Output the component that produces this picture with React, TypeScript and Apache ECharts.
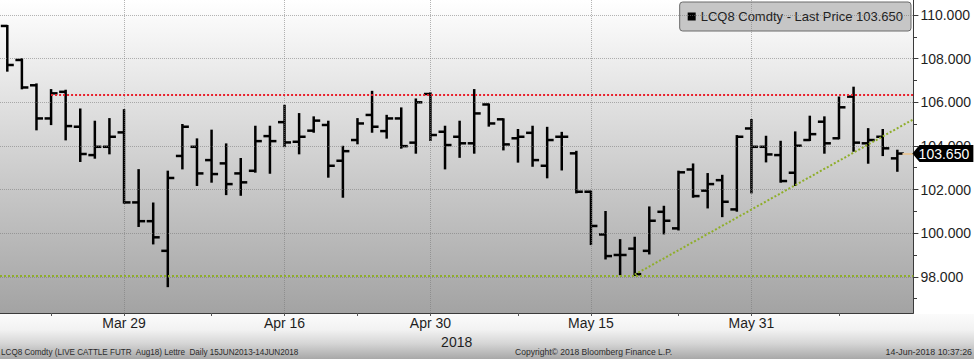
import React, { useEffect, useRef } from 'react';
import * as echarts from 'echarts';

// Trading days shown (Mar 19 – Jun 14, 2018)
const dates = [
  'Mar 19', 'Mar 20', 'Mar 21', 'Mar 22', 'Mar 23', 'Mar 26', 'Mar 27', 'Mar 28', 'Mar 29',
  'Apr 2', 'Apr 3', 'Apr 4', 'Apr 5', 'Apr 6', 'Apr 9', 'Apr 10', 'Apr 11', 'Apr 12', 'Apr 13',
  'Apr 16', 'Apr 17', 'Apr 18', 'Apr 19', 'Apr 20', 'Apr 23', 'Apr 24', 'Apr 25', 'Apr 26', 'Apr 27',
  'Apr 30', 'May 1', 'May 2', 'May 3', 'May 4', 'May 7', 'May 8', 'May 9', 'May 10', 'May 11',
  'May 14', 'May 15', 'May 16', 'May 17', 'May 18', 'May 21', 'May 22', 'May 23', 'May 24', 'May 25',
  'May 29', 'May 30', 'May 31', 'Jun 1', 'Jun 4', 'Jun 5', 'Jun 6', 'Jun 7', 'Jun 8',
  'Jun 11', 'Jun 12', 'Jun 13', 'Jun 14',
];

const opens = [
  109.5, 107.94, 106.78, 105.26, 106.48, 104.88, 103.58, 103.96, 104.62,
  101.41, 100.55, 99.19, 103.54, 103.96, 103.35, 103.2, 102.74, 102.86, 104.45,
  105.09, 104.19, 104.7, 104.96, 103.32, 104.27, 105.42, 104.68, 105.26, 104.15,
  106.38, 104.65, 104.42, 104.12, 105.9, 105.22, 104.35, 104.6, 103.09, 104.42,
  103.66, 101.9, 99.94, 99.0, 99.29, 99.19, 100.98, 100.22, 102.92, 101.95,
  102.43, 101.09, 104.8, 103.96, 103.58, 102.77, 104.27, 105.11, 104.35,
  106.26, 104.12, 104.42, 103.43,
];
const highs = [
  109.5, 107.97, 106.82, 106.56, 106.53, 105.67, 105.11, 105.23, 105.64,
  102.89, 101.36, 102.82, 104.96, 104.3, 104.7, 104.07, 103.4, 104.88, 104.88,
  105.84, 105.46, 105.31, 105.11, 103.96, 105.23, 106.48, 105.38, 105.72, 106.13,
  106.41, 104.88, 105.11, 106.56, 105.9, 105.22, 104.73, 104.88, 104.83, 104.6,
  103.73, 101.9, 100.97, 99.68, 99.79, 101.18, 101.21, 102.82, 103.15, 102.71,
  102.63, 104.45, 105.19, 104.42, 104.19, 104.62, 105.34, 105.31, 106.22,
  106.67, 104.77, 104.73, 103.78,
];
const lows = [
  107.45, 106.64, 104.76, 105.0, 104.3, 103.31, 103.46, 103.66, 101.4,
  100.33, 99.53, 97.57, 102.97, 102.21, 102.36, 101.79, 101.76, 102.82, 102.77,
  103.99, 103.66, 104.65, 102.59, 101.67, 104.12, 104.65, 104.38, 103.92, 103.69,
  104.27, 102.97, 103.5, 103.69, 104.93, 103.84, 103.28, 103.09, 102.56, 102.92,
  101.87, 99.5, 98.84, 98.12, 98.08, 99.07, 99.99, 100.17, 101.67, 101.18,
  100.78, 101.03, 101.87, 103.29, 102.36, 102.21, 104.27, 103.69, 104.35,
  103.78, 103.23, 103.58, 102.86,
];
const closes = [
  107.71, 106.68, 105.26, 106.41, 104.91, 103.63, 103.96, 104.42, 101.41,
  100.55, 99.81, 102.53, 104.88, 102.74, 102.71, 102.25, 102.33, 104.22, 104.22,
  104.16, 104.42, 105.16, 103.09, 103.76, 105.03, 104.88, 105.26, 103.99, 106.0,
  104.5, 104.04, 104.12, 105.49, 105.03, 104.07, 104.42, 103.35, 104.27, 104.42,
  101.9, 100.33, 98.95, 99.0, 98.12, 100.57, 100.57, 102.79, 101.7, 102.25,
  101.44, 104.42, 103.96, 103.61, 102.39, 104.01, 104.54, 104.12, 105.77,
  104.15, 104.27, 103.89, 103.65,
];

const labelDates = ['Mar 29', 'Apr 16', 'Apr 30', 'May 15', 'May 31'];
const tickDates = ['Mar 22', 'Mar 29', 'Apr 9', 'Apr 16', 'Apr 23', 'Apr 30', 'May 8', 'May 15', 'May 23', 'May 31', 'Jun 8'];
const yLabelValues = [98, 100, 102, 104, 106, 108, 110];
const yMinorTickValues = [97, 99, 101, 103, 105, 107, 109];
const yearLabel = '2018';

// annotation lines
const resistanceLevel = 106.36;
const resistanceStart = 'Mar 22';
const supportLevel = 98.06;
const trendLine = [
  ['May 18', 98.1],
  ['end', 105.22],
];
const lastPrice = 103.65;
const seriesName = 'LCQ8 Comdty - Last Price 103.650';

const footerLeft = 'LCQ8 Comdty (LIVE CATTLE FUTR  Aug18) Lettre  Daily 15JUN2013-14JUN2018';
const footerMid = 'Copyright\u00A9 2018 Bloomberg Finance L.P.';
const footerRight = '14-Jun-2018 10:37:26';

export default function App() {
  const ref = useRef<HTMLDivElement>(null);
  useEffect(() => {
    const chart = echarts.init(ref.current!, null, { renderer: 'svg' });
    const font = "'Liberation Sans', Arial, sans-serif";
    const xMin = -0.5;
    const xMax = 62.1;
    const yMin = 96.34;
    const yMax = 110.69;
    const plotW = 914;
    const idx = (d: string) => (d === 'end' ? xMax : dates.indexOf(d));
    const ohlc = dates.map((d, i) => [i, opens[i], highs[i], lows[i], closes[i]]);
    const lastIdx = dates.length - 1;

    const gridLineStyle = { type: 'dotted', color: 'rgba(120,120,120,0.55)', width: 1 };

    const option: any = {
      animation: false,
      backgroundColor: '#ffffff',
      textStyle: { fontFamily: font },
      grid: {
        left: 0,
        top: 0,
        width: plotW,
        height: 313,
        show: true,
        borderWidth: 0,
        backgroundColor: new echarts.graphic.LinearGradient(0, 0, 0, 1, [
          { offset: 0, color: '#ffffff' },
          { offset: 1, color: '#a3a3a3' },
        ]),
      },
      legend: {
        show: true,
        data: [{ name: seriesName, icon: 'rect', itemStyle: { color: '#000' } }],
        right: 63,
        top: 2,
        itemWidth: 8,
        itemHeight: 8,
        padding: [8, 8, 8, 8],
        backgroundColor: '#c6c6c6',
        borderColor: '#6a6a6a',
        borderWidth: 1,
        borderRadius: 3,
        selectedMode: false,
        textStyle: { fontSize: 13, color: '#222', fontFamily: font },
      },
      xAxis: {
        type: 'value',
        min: xMin,
        max: xMax,
        name: yearLabel,
        nameLocation: 'middle',
        nameGap: 16,
        nameTextStyle: { fontSize: 14, color: '#1e1e1e', fontFamily: font },
        axisLine: { show: true, onZero: false, lineStyle: { color: '#3a3a3a', width: 1 } },
        axisTick: {
          show: true,
          customValues: tickDates.map(idx),
          length: 3,
          lineStyle: { color: '#555' },
        },
        axisLabel: {
          customValues: labelDates.map(idx),
          formatter: (v: number) => dates[Math.round(v)],
          fontSize: 14,
          color: '#1e1e1e',
          margin: 3,
          fontFamily: font,
        },
        splitLine: { show: false },
      },
      yAxis: [
        {
          type: 'value',
          position: 'right',
          min: yMin,
          max: yMax,
          axisLine: { show: true, onZero: false, lineStyle: { color: '#3a3a3a', width: 1 } },
          axisTick: {
            show: true,
            customValues: yLabelValues,
            length: 5,
            lineStyle: { color: '#3a3a3a' },
          },
          axisLabel: {
            customValues: yLabelValues,
            formatter: (v: number) => v.toFixed(3),
            fontSize: 14,
            color: '#1e1e1e',
            margin: 7,
            fontFamily: font,
          },
          splitLine: { show: false },
        },
        {
          // minor ticks: second axis uses the left slot, shifted onto the right edge
          type: 'value',
          position: 'left',
          offset: -plotW,
          min: yMin,
          max: yMax,
          axisLine: { show: false, onZero: false },
          axisTick: {
            show: true,
            inside: true,
            customValues: yMinorTickValues,
            length: 3,
            lineStyle: { color: '#3a3a3a' },
          },
          axisLabel: { show: false },
          splitLine: { show: false },
        },
      ],
      series: [
        {
          name: 'annotations',
          type: 'line',
          data: [],
          z: 1,
          silent: true,
          markLine: {
            silent: true,
            symbol: ['none', 'none'],
            label: { show: false },
            animation: false,
            data: [
              ...yLabelValues.map((v) => ({ yAxis: v, lineStyle: gridLineStyle })),
              ...labelDates.map((d) => ({ xAxis: idx(d), lineStyle: gridLineStyle })),
              [
                { coord: [idx(resistanceStart), resistanceLevel], lineStyle: { type: 'dotted', color: '#e8202c', width: 2 } },
                { coord: [xMax, resistanceLevel] },
              ],
              [
                { coord: [xMin, supportLevel], lineStyle: { type: 'dotted', color: '#8fae2a', width: 2 } },
                { coord: [xMax, supportLevel] },
              ],
              [
                { coord: [idx(trendLine[0][0] as string), trendLine[0][1]], lineStyle: { type: 'dotted', color: '#8fae2a', width: 2 } },
                { coord: [idx(trendLine[1][0] as string), trendLine[1][1]] },
              ],
              [
                { coord: [lastIdx + 0.35, lastPrice], lineStyle: { type: 'solid', color: '#e6c79c', width: 2 } },
                { coord: [xMax, lastPrice] },
              ],
            ],
          },
          markPoint: {
            silent: true,
            animation: false,
            z: 10,
            data: [
              {
                coord: [xMax, lastPrice],
                symbol: 'path://M0,8L7,0L60,0L60,16L7,16Z',
                symbolSize: [61, 17],
                symbolOffset: [29.5, 0],
                symbolKeepAspect: false,
                itemStyle: { color: '#000' },
                label: {
                  show: true,
                  position: 'inside',
                  formatter: lastPrice.toFixed(3),
                  color: '#fff',
                  fontSize: 14,
                  fontFamily: font,
                  offset: [1, 0],
                },
              },
            ],
          },
        },
        {
          name: seriesName,
          type: 'custom',
          z: 3,
          itemStyle: { color: '#000' },
          data: ohlc,
          encode: { x: 0, y: [1, 2, 3, 4] },
          renderItem: (params: any, api: any) => {
            const x = api.value(0);
            const o = api.coord([x, api.value(1)]);
            const h = api.coord([x, api.value(2)]);
            const l = api.coord([x, api.value(3)]);
            const c = api.coord([x, api.value(4)]);
            const style = { stroke: '#000', lineWidth: 2.5 };
            const tick = 6.5;
            return {
              type: 'group',
              children: [
                { type: 'line', shape: { x1: h[0], y1: h[1] - 1, x2: l[0], y2: l[1] + 1 }, style },
                { type: 'line', shape: { x1: o[0] - tick, y1: o[1], x2: o[0], y2: o[1] }, style },
                { type: 'line', shape: { x1: c[0], y1: c[1], x2: c[0] + tick, y2: c[1] }, style },
              ],
            };
          },
        },
      ],
      graphic: [
        {
          type: 'rect',
          z: -100,
          silent: true,
          shape: { x: 0, y: 314, width: 974, height: 45 },
          style: {
            fill: new echarts.graphic.LinearGradient(0, 0, 0, 1, [
              { offset: 0, color: '#fbfbfb' },
              { offset: 0.35, color: '#f2f2f2' },
              { offset: 0.65, color: '#d6d6d6' },
              { offset: 1, color: '#a8a8a8' },
            ]),
          },
        },
        {
          type: 'text',
          x: 1,
          y: 352,
          scaleX: 0.875,
          silent: true,
          style: { text: footerLeft, fontSize: 9.3, fontFamily: font, fill: '#2a2a2a', verticalAlign: 'middle', align: 'left' },
        },
        {
          type: 'text',
          x: 515,
          y: 352,
          scaleX: 0.92,
          silent: true,
          style: { text: footerMid, fontSize: 9.3, fontFamily: font, fill: '#2a2a2a', verticalAlign: 'middle', align: 'left' },
        },
        {
          type: 'text',
          x: 972,
          y: 352,
          scaleX: 0.95,
          silent: true,
          style: { text: footerRight, fontSize: 9.3, fontFamily: font, fill: '#2a2a2a', verticalAlign: 'middle', align: 'right' },
        },
      ],
    };
    chart.setOption(option);
    return () => chart.dispose();
  }, []);
  return (
    <div
      ref={ref}
      style={{ position: 'fixed', left: 0, top: 0, width: 974, height: 359 }}
    />
  );
}
